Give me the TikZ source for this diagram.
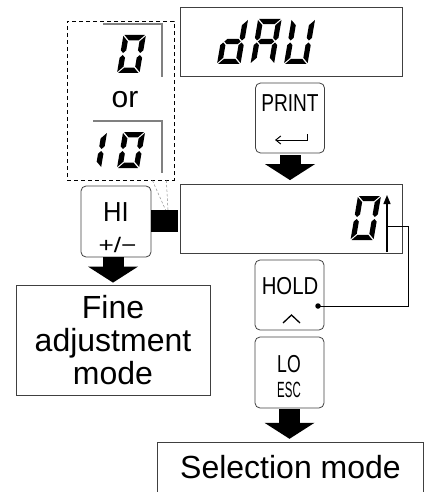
\documentclass[tikz,border=0pt]{standalone}
\usepackage{fontspec}
\setmainfont{Liberation Sans}
\usetikzlibrary{arrows.meta,calc}

% seven-segment pieces (local coords, origin bottom-left, y up)
\newcommand\sevsa{\fill[segc] (\sG,\sH) -- (\sW-\sG,\sH) -- (\sW-\sG-\sT,\sH-\sT) -- (\sG+\sT,\sH-\sT) -- cycle;}
\newcommand\sevsd{\fill[segc] (\sG,0) -- (\sW-\sG,0) -- (\sW-\sG-\sT,\sT) -- (\sG+\sT,\sT) -- cycle;}
\newcommand\sevsf{\fill[segc] (0,\sH-\sG) -- (\sT,\sH-\sG-\sT) -- (\sT,\sh+\sG+\sT/2) -- (\sT/2,\sh+\sG) -- (0,\sh+\sG+\sT/2) -- cycle;}
\newcommand\sevse{\fill[segc] (0,\sG) -- (\sT,\sG+\sT) -- (\sT,\sh-\sG-\sT/2) -- (\sT/2,\sh-\sG) -- (0,\sh-\sG-\sT/2) -- cycle;}
\newcommand\sevsb{\fill[segc] (\sW,\sH-\sG) -- (\sW-\sT,\sH-\sG-\sT) -- (\sW-\sT,\sh+\sG+\sT/2) -- (\sW-\sT/2,\sh+\sG) -- (\sW,\sh+\sG+\sT/2) -- cycle;}
\newcommand\sevsc{\fill[segc] (\sW,\sG) -- (\sW-\sT,\sG+\sT) -- (\sW-\sT,\sh-\sG-\sT/2) -- (\sW-\sT/2,\sh-\sG) -- (\sW,\sh-\sG-\sT/2) -- cycle;}
\newcommand\sevsm{\fill[segc] (\sT/2+\sG,\sh) -- (\sT+\sG,\sh+\sT/2) -- (\sW-\sT-\sG,\sh+\sT/2) -- (\sW-\sT/2-\sG,\sh) -- (\sW-\sT-\sG,\sh-\sT/2) -- (\sT+\sG,\sh-\sT/2) -- cycle;}
% #1 x, #2 y (pixel, bottom-left), #3 height, #4 width, #5 thickness, #6 segments
\newcommand\segdigit[6]{%
  \begin{scope}[shift={(#1,-#2)},xslant=0.17]
    \def\sH{#3}\def\sW{#4}\def\sT{#5}\def\sG{1}%
    \pgfmathsetmacro\sh{#3/2}%
    \foreach \q in {#6}{\csname sevs\q\endcsname}
  \end{scope}}

\tikzset{
  segc/.style={fill=black},
  disp/.style={draw=black!75, line width=0.8pt, inner sep=0pt, minimum width=222pt, minimum height=69pt},
  keyb/.style={draw=black!75, line width=0.8pt, rounded corners=5pt, inner sep=0pt, minimum width=69pt, minimum height=70pt},
  modebox/.style={draw=black!75, line width=0.8pt, inner sep=0pt, font=\fontsize{32}{33}\selectfont, align=center},
  frameline/.style={draw=black!50, line width=1.1pt},
  blockarr/.style={line width=21pt, -{Triangle[width=50pt,length=16pt,line width=0pt]}},
  conn/.style={line width=1pt},
  leader/.style={draw=black!45, line width=0.5pt, dash pattern=on 2.5pt off 2pt},
  keytxt/.style={anchor=base, inner sep=0pt},
}

\begin{document}
\begin{tikzpicture}[x=1pt,y=1pt]
\useasboundingbox (0,0) rectangle (425,-492);

% displays
\node[disp] (d1) at (291,-41.5) {};
\node[disp] (d2) at (291,-219) {};
% dAU
\segdigit{217}{64}{45}{23.5}{5.2}{b,c,d,e,m}
\segdigit{250.5}{64}{45}{23.5}{5.2}{a,b,c,e,f,m}
\segdigit{284}{64}{45}{23.5}{5.2}{b,c,d,e,f}
% 0 in second display
\segdigit{350.5}{240}{44}{23}{5.2}{a,b,c,d,e,f}

% up arrow and loop to HOLD
\coordinate (upbase) at (387,-252);
\coordinate (uptip) at (387,-195);
\draw[line width=1.3pt, -{Triangle[width=7pt,length=9pt]}] (upbase) -- (uptip);
\coordinate (j1) at (387,-226);
\coordinate (corner) at (408,-226);

% keys
\node[keyb] (print) at (290,-118) {};
\node[keytxt] (printt) at (290,-111) {\scalebox{0.78}[1]{\fontsize{24.5}{28}\selectfont PRINT}};
\coordinate (rtop) at (307,-134);
\coordinate (rcorner) at (307,-140);
\coordinate (rend) at (275,-140);
\draw[line width=1pt, -{Straight Barb[length=5pt,width=8pt]}] (rtop) -- (rcorner) -- (rend);

\node[keyb] (hold) at (289.5,-295) {};
\node[keytxt] (holdt) at (290,-294) {\scalebox{0.83}[1]{\fontsize{24.5}{28}\selectfont HOLD}};
\draw[line width=1.3pt] (283,-323) -- (291.5,-315) -- (300,-323);
\node[circle, fill=black, inner sep=0pt, minimum size=5.5pt] (dot) at (318,-306) {};
\draw[conn] (dot.center) -| (corner) -- (j1);

\node[keyb, minimum height=71pt] (lo) at (289.5,-372.5) {};
\node[keytxt] (lot) at (289,-372) {\scalebox{0.72}[1]{\fontsize{24.5}{28}\selectfont LO}};
\node[keytxt] (esct) at (289,-397) {\scalebox{0.52}[1]{\fontsize{22}{25}\selectfont ESC}};

\node[keyb, minimum width=70pt, minimum height=71pt] (hi) at (116,-221.5) {};
\node[keytxt] (hit) at (116,-221) {\scalebox{0.93}[1]{\fontsize{27.5}{30}\selectfont HI}};
\node[keytxt] (pmt) at (117.5,-252) {\scalebox{1.25}[1]{\fontsize{21}{25}\selectfont +/−}};

% black square
\node[fill=black, inner sep=0pt, minimum width=27pt, minimum height=22pt] (sq) at (164.5,-221) {};

% dashed box with alternatives
\node[draw=black, line width=0.8pt, dash pattern=on 4pt off 3pt, inner sep=0pt, minimum width=107pt, minimum height=159pt] (dbox) at (120.5,-100.5) {};
\draw[frameline] (103,-24) -- (162,-24) -- (162,-77);
\segdigit{117}{73}{38}{22.5}{5.4}{a,b,c,d,e,f}
\node[keytxt] (or) at (125,-107) {\fontsize{30}{34}\selectfont or};
\draw[frameline] (93,-121) -- (162,-121) -- (162,-173);
\segdigit{79}{168}{36}{22}{5.4}{b,c}
\segdigit{117}{168}{36}{22}{5.4}{a,b,c,d,e,f}
\draw[leader] ($(dbox.south east)+(-22,0)$) -- ($(sq.north)+(1,0)$);
\draw[leader] ($(dbox.south east)+(-8,0)$) -- ($(sq.north)+(3.5,0)$);

% mode boxes
\node[modebox, minimum width=194pt, minimum height=110pt] (fine) at (113,-340) {Fine\\adjustment\\mode};
\node[inner sep=0pt, font=\fontsize{32}{33}\selectfont, minimum width=265pt, minimum height=49pt] (sel) at (290.5,-467.5) {Selection mode};
\draw[line width=0.8pt, draw=black!75] (sel.south west) -- (sel.north west) -- (sel.north east) -- (sel.south east);

% block arrows
\draw[blockarr, shorten <=2pt, shorten >=4pt] (print.south) -- (d2.north -| print.south);
\draw[blockarr, shorten >=2pt] (fine.north |- hi.south) -- (fine.north);
\draw[blockarr, shorten <=1pt, shorten >=4pt] (lo.south) -- (sel.north -| lo.south);
\end{tikzpicture}
\end{document}
